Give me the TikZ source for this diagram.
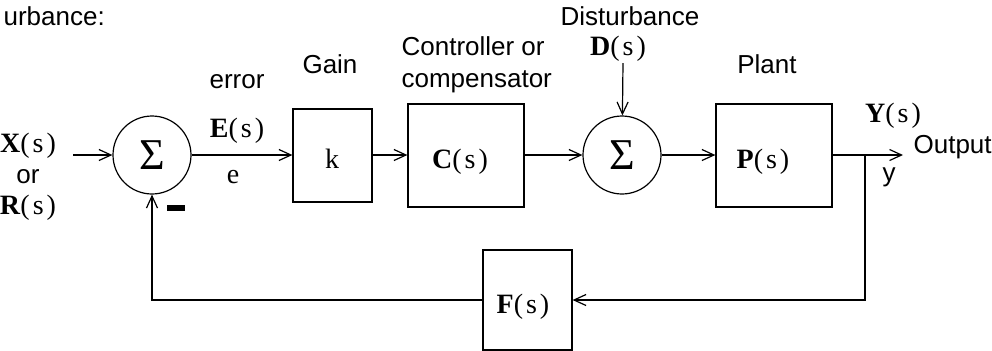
\documentclass[tikz,border=0pt]{standalone}
\usepackage{fontspec}
\setmainfont{Liberation Serif}
\setsansfont{Liberation Sans}
\usetikzlibrary{arrows.meta}
\newcommand{\sigf}[1]{\textbf{#1}(\kern1.5pt s\kern1.5pt)}
\begin{document}
\begin{tikzpicture}[x=0.5pt,y=-0.5pt,
  line width=0.6pt,
  >={Straight Barb[length=6pt,width=5.5pt]},
  blk/.style={draw, rectangle, inner sep=0pt},
  sumnode/.style={draw, circle, minimum size=39pt, inner sep=0pt, font=\fontsize{22}{22}\selectfont},
  lbl/.style={font=\sffamily\fontsize{13}{15}\selectfont, inner sep=0pt},
  mlbl/.style={font=\fontsize{14}{16}\selectfont, inner sep=0pt}]
\useasboundingbox (0,0) rectangle (992,350);

% blocks
\node[sumnode] (sum1) at (152,155) {Σ};
\node[blk, minimum width=39.5pt, minimum height=46.5pt] (kbox) at (332.5,155.5) {};
\node[blk, minimum width=58pt, minimum height=51.5pt] (cbox) at (466,155.5) {};
\node[sumnode] (sum2) at (622,155) {Σ};
\node[blk, minimum width=58pt, minimum height=51.5pt] (pbox) at (774,155.5) {};
\node[blk, minimum width=44.5pt, minimum height=50pt] (fbox) at (527.5,300) {};

% block contents
\node[mlbl, anchor=base] (klbl) at (332,168) {k};
\node[mlbl, anchor=base] (clbl) at (460,168) {\sigf{C}};
\node[mlbl, anchor=base] (plbl) at (763,168) {\sigf{P}};
\node[mlbl, anchor=base] (flbl) at (523,313) {\sigf{F}};

% coordinates
\coordinate (in) at (73,155);
\coordinate (din) at (623,63);
\coordinate (br) at (865,155);
\coordinate (out) at (903,155);

% connectors
\draw[->] (in) -- (sum1);
\draw[->] (sum1.east) -- (sum1.east -| kbox.west);
\draw[->] (kbox.east |- sum1.east) -- (sum1.east -| cbox.west);
\draw[->] (cbox.east |- sum1.east) -- (sum2.west);
\draw[->] (din) -- (sum2);
\draw[->] (sum2.east) -- (sum2.east -| pbox.west);
\draw[->] (pbox.east |- br) -- (out);
\draw[->] (br) |- (fbox.east);
\draw[->] (fbox.west) -| (sum1.south);

% minus sign
\node[fill, minimum width=9pt, minimum height=3pt, inner sep=0pt] (minus) at (176,207.5) {};

% labels
\node[lbl, anchor=base west] (distA) at (3,25) {urbance:};
\node[mlbl, anchor=base] (xlbl) at (28,152) {\sigf{X}};
\node[lbl, anchor=base] (orlbl) at (28,183) {or};
\node[mlbl, anchor=base] (rlbl) at (28,214) {\sigf{R}};
\node[lbl, anchor=base] (errlbl) at (237,88) {error};
\node[mlbl, anchor=base] (elbl) at (237,137) {\sigf{E}};
\node[mlbl, anchor=base] (esm) at (233,183) {e};
\node[lbl, anchor=base] (gainlbl) at (330,73) {Gain};
\node[lbl, anchor=base west] (ctrl1) at (401,55) {Controller or};
\node[lbl, anchor=base west] (ctrl2) at (401,87) {compensator};
\node[lbl, anchor=base] (distB) at (630,25) {Disturbance};
\node[mlbl, anchor=base] (dlbl) at (618,55) {\sigf{D}};
\node[lbl, anchor=base] (plant) at (767,73) {Plant};
\node[mlbl, anchor=base] (ylbl) at (893,122) {\sigf{Y}};
\node[lbl, anchor=base west] (outlbl) at (913,153) {Output};
\node[lbl, anchor=base] (ysm) at (889,181) {y};
\end{tikzpicture}
\end{document}
